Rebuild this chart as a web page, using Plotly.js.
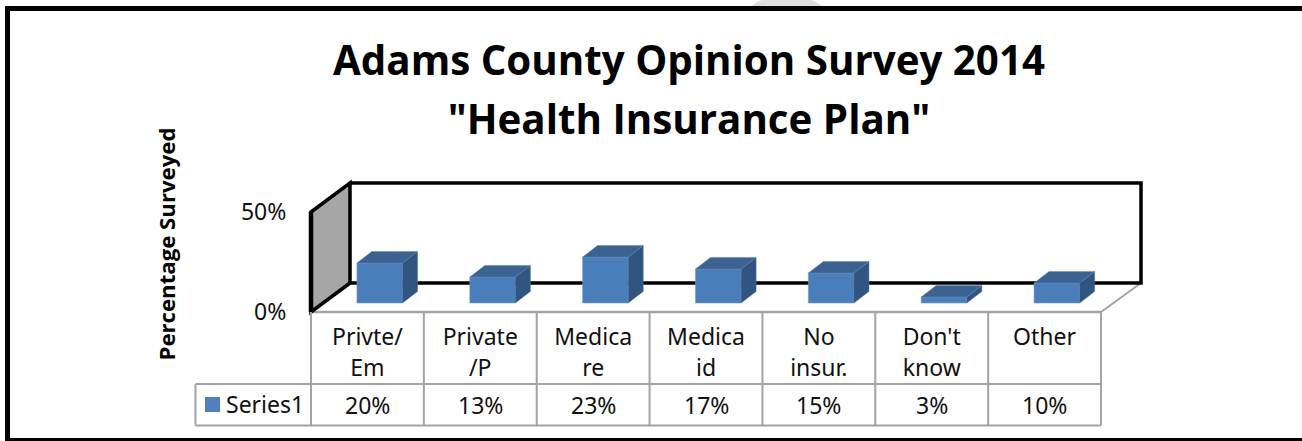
<!DOCTYPE html>
<html><head><meta charset="utf-8">
<script src="https://cdn.plot.ly/plotly-3.0.1.min.js"></script>
<style>html,body{margin:0;padding:0;background:#fff;overflow:hidden}</style>
</head><body><div id="chart" style="width:1302px;height:441px"></div>
<script>
const categories = ["Privte/<br>Em","Private<br>/P","Medica<br>re","Medica<br>id","No<br>insur.","Don't<br>know","Other"];
const values = [20,13,23,17,15,3,10];
const yTicks = [0,50];
const yTickLabels = ["0%","50%"];
const seriesName = "Series1";

// pixel geometry of the frame
const W=1302,H=441,L=311,R=1141,T=176,B=312;
const PX=x=>(x-L)/(R-L), PY=y=>(B-y)/(B-T);
const catW=(1101-311)/7;
const barW=45.6/catW, barShift=12.3/catW, dX=15/catW, dY=5.8, floorY=4.5;
const idx=values.map((_,i)=>i);

const topX=[],topY=[],sideX=[],sideY=[];
values.forEach((v,i)=>{
  const a=i+barShift-barW/2,b=a+barW,t=floorY+v,f=floorY;
  topX.push(a,b,b+dX,a+dX,a,null); topY.push(t,t,t+dY,t+dY,t,null);
  sideX.push(b,b+dX,b+dX,b,b,null); sideY.push(f,f+dY,t+dY,t,f,null);
});

const FRONT="#4a7ebb",TOP="#3b6291",SIDE="#315581";
const traces=[
 {type:"bar",name:seriesName,x:idx,y:values,base:floorY,width:barW,offset:barShift-barW/2,
  marker:{color:FRONT,line:{color:"#6f9bcc",width:0.6}},hoverinfo:"skip"},
 {type:"scatter",mode:"lines",x:sideX,y:sideY,fill:"toself",fillcolor:SIDE,line:{color:"#4d76a6",width:0.5},hoverinfo:"skip"},
 {type:"scatter",mode:"lines",x:topX,y:topY,fill:"toself",fillcolor:TOP,line:{color:"#5d84b3",width:0.5},hoverinfo:"skip"}
];

const line=(x0,y0,x1,y1,color,width)=>({type:"line",xref:"paper",yref:"paper",x0:PX(x0),y0:PY(y0),x1:PX(x1),y1:PY(y1),line:{color,width},layer:"below"});
const GRID="#a3a3a3";
const pathOf=pts=>"M"+pts.map(p=>PX(p[0])+","+PY(p[1])).join("L")+"Z";
const shapes=[
 // faint grey blob behind the top edge
 {type:"path",xref:"paper",yref:"paper",path:pathOf([[750,7],[757,2],[764,-1],[808,-1],[816,2],[823,7]]),fillcolor:"#dedede",line:{width:0},layer:"below"},
 // outer frame
 {type:"rect",xref:"paper",yref:"paper",x0:PX(5),x1:PX(10),y0:PY(6),y1:PY(441),fillcolor:"#000",line:{width:0},layer:"below"},
 {type:"rect",xref:"paper",yref:"paper",x0:PX(5),x1:PX(1302),y0:PY(6),y1:PY(11),fillcolor:"#000",line:{width:0},layer:"below"},
 {type:"rect",xref:"paper",yref:"paper",x0:PX(5),x1:PX(1302),y0:PY(438),y1:PY(441),fillcolor:"#000",line:{width:0},layer:"below"},
 // floor
 line(311,312,1101,312,GRID,2.5), line(1101,312,1141,283,GRID,2),
 // side wall
 {type:"path",xref:"paper",yref:"paper",path:pathOf([[311,212],[350,183],[350,283],[311,312]]),fillcolor:"#a6a6a6",line:{color:"#000",width:3.5},layer:"below"},
 line(311,212,311,312,"#000",4.5),
 // back wall
 {type:"path",xref:"paper",yref:"paper",path:"M"+PX(350)+","+PY(183)+"L"+PX(1141)+","+PY(183)+"L"+PX(1141)+","+PY(283)+"L"+PX(350)+","+PY(283),fillcolor:"rgba(0,0,0,0)",line:{color:"#000",width:3.5},layer:"below"},
 // table
 line(195.5,384,1101,384,GRID,2), line(195.5,425.5,1101,425.5,GRID,2), line(195.5,384,195.5,425.5,GRID,2)
];
for(let i=0;i<=7;i++) shapes.push(line(311+i*catW,312,311+i*catW,425.5,GRID,2));
// legend key
shapes.push({type:"rect",xref:"paper",yref:"paper",x0:PX(205),x1:PX(220),y0:PY(397),y1:PY(412),fillcolor:"#4f81bd",line:{width:0},layer:"above"});

const FONT="'Noto Sans',sans-serif";
const annotations=values.map((v,i)=>({xref:"x",yref:"paper",x:i,y:PY(405),text:v+"%",showarrow:false,xanchor:"center",yanchor:"middle",font:{family:FONT,size:23,color:"#111"}}));
annotations.push({xref:"paper",yref:"paper",x:PX(226),y:PY(404),text:seriesName,showarrow:false,xanchor:"left",yanchor:"middle",xshift:-2,font:{family:FONT,size:23,color:"#111"}});

const layout={
 width:W,height:H,autosize:false,showlegend:false,
 paper_bgcolor:"#fff",plot_bgcolor:"rgba(0,0,0,0)",
 margin:{l:L,r:W-R,t:T,b:H-B,pad:0},
 bargap:0,
 title:{text:'<span style="font-size:40.3px">Adams County Opinion Survey 2014<br>"Health Insurance Plan"</span>',
   font:{family:"'Open Sans',sans-serif",size:45.4,color:"#000",weight:700},
   xref:"paper",yref:"container",x:(689-L)/(R-L),xanchor:"center",y:1-75/H,yanchor:"top"},
 xaxis:{range:[-0.5,-0.5+(R-L)/catW],tickmode:"array",tickvals:idx,
   ticktext:categories.map(c=>'<span style="font-size:23px">'+c+'</span>'),
   tickfont:{family:FONT,size:24,color:"#111"},tickangle:0,ticks:"outside",ticklen:3,tickcolor:"rgba(0,0,0,0)",
   showgrid:false,zeroline:false,showline:false,fixedrange:true},
 yaxis:{range:[0,68],tickmode:"array",tickvals:yTicks,ticktext:yTickLabels,
   tickfont:{family:FONT,size:23,color:"#111"},ticks:"outside",ticklen:19,tickcolor:"rgba(0,0,0,0)",
   showgrid:false,zeroline:false,showline:false,fixedrange:true,
   title:{text:"Percentage Surveyed",standoff:59,font:{family:"'Open Sans',sans-serif",size:22.2,color:"#000",weight:700}}},
 shapes,annotations
};
Plotly.newPlot("chart",traces,layout,{displayModeBar:false,staticPlot:true});
</script></body></html>
